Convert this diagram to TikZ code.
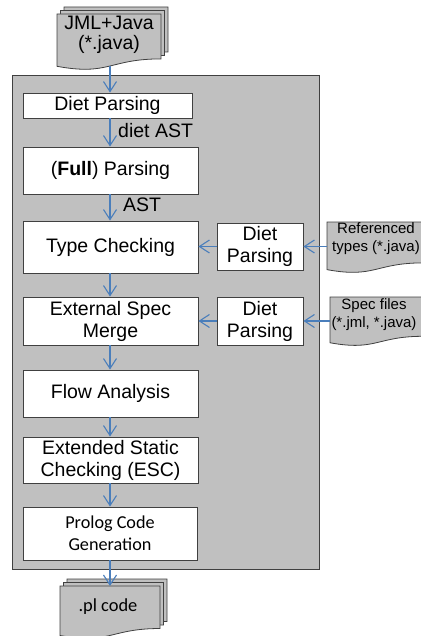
\documentclass[tikz,border=0pt]{standalone}
\usepackage{fontspec}
\setmainfont{Liberation Sans}
\newfontfamily\calfont{Carlito}
\usetikzlibrary{arrows.meta}
\definecolor{panel}{HTML}{C0C0C0}
\definecolor{arrblue}{HTML}{4A7EBB}
\definecolor{edgec}{HTML}{404040}
\newcommand{\docpage}[4]{%
 \filldraw[docst] (#1,#2) -- (#1+#3,#2) -- (#1+#3,#2+0.802*#4) .. controls (#1+0.5*#3,#2+0.802*#4) and (#1+0.5*#3,#2+1.107*#4) .. (#1,#2+0.934*#4) -- cycle;}
\begin{document}
\begin{tikzpicture}[x=1pt,y=-1pt,
  box/.style={draw=edgec, fill=white, line width=0.9pt, align=center, inner sep=0pt, font=\fontsize{19.5}{22}\selectfont},
  arr/.style={draw=arrblue, line width=1.1pt, -{Straight Barb[length=10pt,width=13pt]}},
  docst/.style={fill=panel, draw=edgec, line width=0.8pt},
  lbl/.style={font=\fontsize{19.5}{22}\selectfont, inner sep=0pt, anchor=west},
  doctext/.style={align=center, inner sep=0pt, font=\fontsize{15}{18}\selectfont}]
\useasboundingbox (0,0) rectangle (420,636);
% container
\filldraw[fill=panel, draw=edgec, line width=0.9pt] (12,75) rectangle (319,569);
% top multi-document
\docpage{64}{7}{104}{56}
\docpage{60.5}{10.5}{104}{56}
\docpage{57}{14}{104}{56}
\node[align=center, inner sep=0pt, font=\fontsize{19.5}{20}\selectfont] (src) at (109,35) {JML+Java\\(*.java)};
% bottom multi-document
\docpage{67}{579}{100}{53}
\docpage{63.5}{582.5}{100}{53}
\docpage{60}{586}{100}{53}
\node[inner sep=0pt, font=\calfont\fontsize{18.4}{20}\selectfont] (out) at (108,607) {.pl code};
% side documents
\docpage{327}{222}{96}{51}
\node[doctext] (reftext) at (376,239) {Referenced\\types (*.java)};
\docpage{330}{297}{93}{49}
\node[doctext] (spectext) at (374,314.5) {Spec files\\(*.jml, *.java)};
% boxes
\node[box, minimum width=169pt, minimum height=25pt] (dp1) at (107.5,105.5) {Diet Parsing};
\node[box, minimum width=175pt, minimum height=47pt] (full) at (110.5,170.5) {(\textbf{Full}) Parsing};
\node[box, minimum width=175pt, minimum height=52pt] (tc) at (110.5,247) {Type Checking};
\node[box, minimum width=86pt, minimum height=47pt] (dpa) at (260,246.5) {Diet\\Parsing};
\node[box, minimum width=175pt, minimum height=48pt] (esm) at (110.5,321) {External Spec\\Merge};
\node[box, minimum width=86pt, minimum height=48pt] (dpb) at (260,321) {Diet\\Parsing};
\node[box, minimum width=175pt, minimum height=47pt] (fa) at (110.5,393.5) {Flow Analysis};
\node[box, minimum width=175pt, minimum height=46pt] (esc) at (110.5,460) {Extended Static\\Checking (ESC)};
\node[box, minimum width=174pt, minimum height=53pt, font=\calfont\fontsize{18.2}{22}\selectfont] (pcg) at (110,533.5) {Prolog Code\\Generation};
% labels
\node[lbl] (dietast) at (118,131) {diet AST};
\node[lbl] (ast) at (123,205) {AST};
% connectors
\coordinate (ax) at (110,0);
\coordinate (srcout) at (110,66);
\coordinate (outin) at (110,586);
\coordinate (refin) at (327,246.5);
\coordinate (specin) at (330,321);
\draw[arr] (srcout) -- (dp1.north -| ax);
\draw[arr] (dp1.south -| ax) -- (full.north -| ax);
\draw[arr] (full.south -| ax) -- (tc.north -| ax);
\draw[arr] (tc.south -| ax) -- (esm.north -| ax);
\draw[arr] (esm.south -| ax) -- (fa.north -| ax);
\draw[arr] (fa.south -| ax) -- (esc.north -| ax);
\draw[arr] (esc.south -| ax) -- (pcg.north -| ax);
\draw[arr] (pcg.south -| ax) -- (outin);
\draw[arr] (refin) -- (dpa.east);
\draw[arr] (dpa.west) -- (tc.east |- dpa.west);
\draw[arr] (specin) -- (dpb.east);
\draw[arr] (dpb.west) -- (esm.east |- dpb.west);
\end{tikzpicture}
\end{document}
